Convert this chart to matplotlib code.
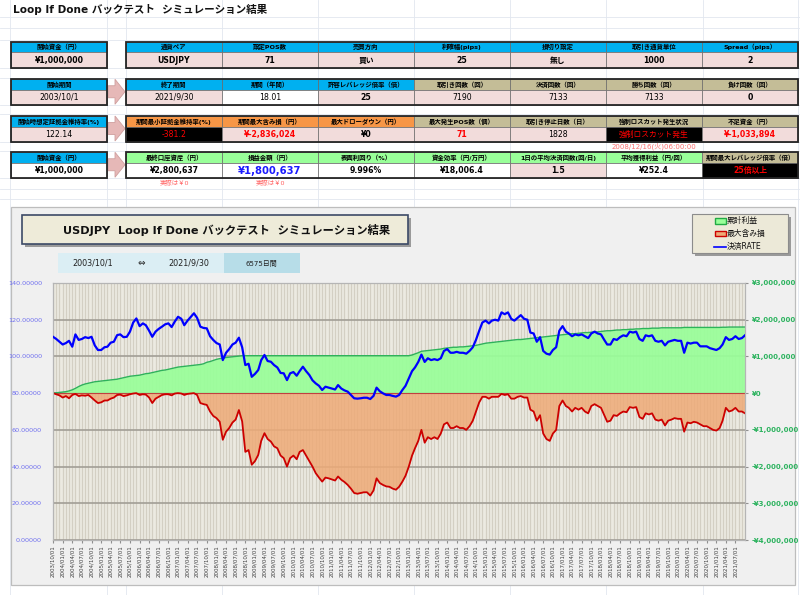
import numpy as np
import pandas as pd
import matplotlib
matplotlib.use('Agg')
import matplotlib.pyplot as plt
from matplotlib.patches import Rectangle, Polygon

plt.rcParams['font.family'] = ['DejaVu Sans', 'Noto Sans CJK JP']

# ---------------- data ----------------
month_starts = list(pd.date_range('2003-10-01', '2021-09-01', freq='MS'))
dates = month_starts + [pd.Timestamp('2021-09-30')]

rate = [
    110.7, 109.5, 108.0,
    106.5, 107.3, 108.5, 105.3, 112.0, 109.0, 109.5, 110.5, 110.0, 110.7, 106.0, 103.5,
    103.5, 105.0, 105.3, 107.5, 108.0, 111.6, 112.0, 110.5, 110.7, 113.5, 118.5, 120.7,
    116.5, 118.0, 117.0, 114.0, 110.7, 113.5, 115.0, 116.2, 117.5, 118.0, 116.0, 119.0,
    121.6, 120.5, 117.0, 119.5, 121.5, 123.5, 121.0, 116.2, 115.5, 115.3, 111.0, 109.0,
    107.3, 106.5, 98.0, 102.0, 104.0, 106.5, 107.5, 110.2, 105.0, 95.3, 96.0, 88.9,
    90.5, 92.6, 98.0, 100.8, 97.5, 97.1, 95.3, 94.0, 91.0, 90.8, 87.1, 90.8,
    91.5, 89.5, 92.0, 94.4, 92.0, 89.9, 87.0, 85.3, 84.0, 81.7, 83.5, 83.0,
    82.5, 82.0, 84.4, 82.5, 81.5, 80.8, 79.0, 77.2, 77.0, 77.2, 77.5, 77.5,
    76.8, 78.5, 83.0, 81.0, 79.9, 79.0, 79.0, 78.5, 78.1, 79.0, 81.7, 84.0,
    88.0, 92.0, 94.0, 97.0, 101.0, 97.0, 99.0, 98.0, 98.5, 98.0, 99.0, 103.0,
    104.0, 102.0, 102.0, 102.5, 102.0, 102.0, 101.5, 103.0, 105.0, 109.0, 114.0, 118.5,
    119.5, 118.0, 119.5, 120.0, 119.5, 124.0, 123.0, 124.0, 120.5, 119.5, 121.0, 122.5,
    120.5, 120.0, 113.0, 112.5, 108.0, 110.5, 103.0, 101.5, 101.0, 103.5, 105.0, 114.0,
    116.5, 113.5, 112.5, 111.0, 112.0, 111.5, 112.0, 111.0, 110.0, 112.5, 113.5, 112.5,
    112.0, 109.0, 106.5, 106.5, 109.5, 109.0, 110.5, 111.5, 111.0, 113.5, 113.0, 113.5,
    109.5, 108.5, 111.5, 111.0, 111.5, 108.5, 108.0, 108.5, 106.0, 108.0, 108.5, 109.0,
    108.5, 108.5, 102.0, 107.5, 107.0, 107.5, 107.5, 105.5, 105.5, 105.5, 104.5, 104.0,
    103.5, 104.5, 106.5, 110.5, 109.0, 109.5, 111.0, 109.5, 110.0,
    111.5,
]

profit_m = [
    0.00, 0.01, 0.02,
    0.03, 0.04, 0.06, 0.09, 0.13, 0.18, 0.22, 0.25, 0.27, 0.29, 0.31, 0.32,
    0.33, 0.34, 0.35, 0.36, 0.37, 0.38, 0.40, 0.42, 0.44, 0.46, 0.47, 0.48,
    0.49, 0.51, 0.53, 0.54, 0.56, 0.58, 0.60, 0.62, 0.63, 0.65, 0.67, 0.69,
    0.71, 0.72, 0.73, 0.74, 0.75, 0.76, 0.77, 0.78, 0.80, 0.84, 0.86, 0.89,
    0.92, 0.94, 0.95, 0.97, 0.98, 0.99, 1.00, 1.01, 1.02, 1.02, 1.02, 1.02,
    1.02, 1.02, 1.02, 1.02, 1.02, 1.02, 1.02, 1.02, 1.02, 1.02, 1.02, 1.02,
    1.02, 1.02, 1.02, 1.02, 1.02, 1.02, 1.02, 1.02, 1.02, 1.02, 1.02, 1.02,
    1.02, 1.02, 1.02, 1.02, 1.02, 1.02, 1.02, 1.02, 1.02, 1.02, 1.02, 1.02,
    1.02, 1.02, 1.02, 1.02, 1.02, 1.02, 1.02, 1.02, 1.02, 1.02, 1.02, 1.02,
    1.02, 1.04, 1.07, 1.10, 1.14, 1.15, 1.16, 1.17, 1.18, 1.19, 1.20, 1.22,
    1.23, 1.24, 1.25, 1.25, 1.26, 1.26, 1.27, 1.28, 1.29, 1.30, 1.32, 1.34,
    1.36, 1.37, 1.38, 1.39, 1.40, 1.41, 1.42, 1.43, 1.44, 1.45, 1.46, 1.46,
    1.47, 1.48, 1.49, 1.50, 1.51, 1.52, 1.53, 1.54, 1.55, 1.56, 1.57, 1.58,
    1.59, 1.60, 1.61, 1.62, 1.62, 1.63, 1.64, 1.65, 1.65, 1.66, 1.67, 1.67,
    1.68, 1.69, 1.70, 1.70, 1.71, 1.72, 1.72, 1.73, 1.73, 1.74, 1.74, 1.75,
    1.75, 1.76, 1.76, 1.76, 1.77, 1.77, 1.77, 1.78, 1.78, 1.78, 1.78, 1.78,
    1.78, 1.78, 1.79, 1.79, 1.79, 1.79, 1.79, 1.79, 1.79, 1.79, 1.79, 1.79,
    1.79, 1.79, 1.795, 1.795, 1.80, 1.80, 1.80, 1.80, 1.80,
    1.8006,
]

loss_m = [
    0.00, -0.03, -0.06,
    -0.12, -0.08, -0.14, -0.05, -0.02, -0.08, -0.06, -0.07, -0.05, -0.12, -0.20, -0.27,
    -0.25, -0.20, -0.20, -0.15, -0.12, -0.05, -0.04, -0.08, -0.06, -0.03, -0.01, 0.00,
    -0.05, -0.03, -0.04, -0.12, -0.27, -0.15, -0.10, -0.05, -0.03, -0.03, -0.06, -0.01,
    0.00, -0.01, -0.05, -0.02, -0.01, 0.00, -0.05, -0.27, -0.30, -0.32, -0.50, -0.62,
    -0.68, -0.78, -1.27, -1.05, -0.95, -0.80, -0.72, -0.46, -0.77, -1.60, -1.55, -1.95,
    -1.85, -1.68, -1.30, -1.09, -1.25, -1.32, -1.45, -1.50, -1.70, -1.77, -2.00, -1.77,
    -1.70, -1.80, -1.60, -1.55, -1.70, -1.86, -2.00, -2.18, -2.30, -2.41, -2.30, -2.32,
    -2.35, -2.38, -2.27, -2.36, -2.42, -2.50, -2.60, -2.72, -2.74, -2.72, -2.70, -2.70,
    -2.79, -2.65, -2.32, -2.45, -2.50, -2.54, -2.55, -2.60, -2.63, -2.55, -2.41, -2.25,
    -2.00, -1.70, -1.50, -1.30, -1.00, -1.35, -1.20, -1.25, -1.20, -1.25, -1.10, -0.85,
    -0.80, -0.95, -0.95, -0.90, -0.95, -0.95, -1.00, -0.90, -0.75, -0.50, -0.25, -0.10,
    -0.10, -0.15, -0.10, -0.10, -0.10, -0.02, -0.05, -0.03, -0.15, -0.15, -0.10, -0.08,
    -0.12, -0.12, -0.45, -0.50, -0.75, -0.60, -1.10, -1.25, -1.30, -1.10, -1.00, -0.35,
    -0.20, -0.35, -0.40, -0.50, -0.40, -0.45, -0.40, -0.50, -0.55, -0.35, -0.30, -0.35,
    -0.40, -0.60, -0.78, -0.75, -0.60, -0.62, -0.55, -0.50, -0.52, -0.38, -0.40, -0.38,
    -0.65, -0.70, -0.55, -0.58, -0.55, -0.72, -0.75, -0.72, -0.88, -0.75, -0.72, -0.68,
    -0.70, -0.70, -1.05, -0.80, -0.82, -0.78, -0.80, -0.85, -0.90, -0.90, -0.95, -1.00,
    -1.02, -0.95, -0.75, -0.40, -0.50, -0.47, -0.40, -0.50, -0.50,
    -0.55,
]

tick_dates = list(pd.date_range('2003-10-01', '2021-07-01', freq='3MS'))
tick_labels = [d.strftime('%Y/%m/%d') for d in tick_dates]
left_ticks = [0, 20, 40, 60, 80, 100, 120, 140]
left_tick_labels = ['0.00000', '20.00000', '40.00000', '60.00000', '80.00000',
                    '100.00000', '120.00000', '140.00000']
right_ticks = [-4e6, -3e6, -2e6, -1e6, 0, 1e6, 2e6, 3e6]
right_tick_labels = ['-¥4,000,000', '-¥3,000,000', '-¥2,000,000', '-¥1,000,000',
                     '¥0', '¥1,000,000', '¥2,000,000', '¥3,000,000']

# table contents
left_heads = ['開始資金（円）', '開始期間', '開始時想定証拠金維持率(%)', '開始資金（円）']
left_vals = ['¥1,000,000', '2003/10/1', '122.14', '¥1,000,000']

heads = [
    ['通貨ペア', '設定POS数', '売買方向', '利確幅(pips)', '損切り設定', '取引き通貨単位', 'Spread（pips）'],
    ['終了期間', '期間（年間）', '許容レバレッジ倍率（倍）', '取引き回数（回）', '決済回数（回）', '勝ち回数（回）', '負け回数（回）'],
    ['期間最小証拠金維持率(%)', '期間最大含み損（円）', '最大ドローダウン（円）', '最大発生POS数（個）', '取引き停止日数（日）', '強制ロスカット発生状況', '不足資金（円）'],
    ['最終口座資産（円）', '損益金額（円）', '表面利回り（%）', '資金効率（円/万円）', '1日の平均決済回数(回/日)', '平均獲得利益（円/回）', '期間最大レバレッジ倍率（倍）'],
]
vals = [
    ['USDJPY', '71', '買い', '25', '無し', '1000', '2'],
    ['2021/9/30', '18.01', '25', '7190', '7133', '7133', '0'],
    ['-381.2', '¥-2,836,024', '¥0', '71', '1828', '強制ロスカット発生', '¥-1,033,894'],
    ['¥2,800,637', '¥1,800,637', '9.996%', '¥18,006.4', '1.5', '¥252.4', '25倍以上'],
]

# ---------------- styling ----------------
CYAN, KHAKI, ORANGE, LGREEN = '#00b0f0', '#c4bd97', '#f79646', '#99ff99'
PINK, WHITE, BLACK = '#f2dcdb', '#ffffff', '#000000'
RED, BLUE = '#ff0000', '#1a1aff'

head_colors = [
    [CYAN] * 7,
    [CYAN] * 3 + [KHAKI] * 4,
    [ORANGE] * 3 + [KHAKI] * 4,
    [LGREEN] * 6 + [KHAKI],
]
val_bg = [
    [PINK] * 7,
    [PINK, WHITE, PINK, PINK, PINK, PINK, PINK],
    [BLACK, PINK, PINK, PINK, PINK, BLACK, PINK],
    [WHITE, WHITE, WHITE, WHITE, PINK, WHITE, BLACK],
]
val_fc = [
    ['k'] * 7,
    ['k'] * 7,
    [RED, RED, 'k', RED, 'k', RED, RED],
    ['k', BLUE, 'k', 'k', 'k', 'k', RED],
]
val_fw = [
    ['bold'] * 7,
    ['normal', 'normal', 'bold', 'normal', 'normal', 'normal', 'bold'],
    ['normal', 'bold', 'bold', 'bold', 'normal', 'normal', 'bold'],
    ['bold', 'bold', 'bold', 'bold', 'bold', 'bold', 'bold'],
]
val_fs = [
    [5.6] * 7,
    [5.6] * 7,
    [5.6] * 7,
    [5.6, 7.2, 5.6, 5.6, 5.6, 5.6, 5.6],
]
left_bg = [PINK, PINK, PINK, WHITE]
left_fw = ['bold', 'normal', 'normal', 'bold']

rows_y = [(41.5, 52.0, 67.5), (79.0, 89.5, 104.5), (115.5, 126.5, 141.5), (152.0, 163.0, 177.5)]
col_x = [126 + 96 * i for i in range(7)]
COLW = 96

W, H = 800, 595
fig = plt.figure(figsize=(8, 5.95), dpi=100)
fig.patch.set_facecolor('white')

ov = fig.add_axes([0, 0, 1, 1])
ov.set_zorder(0)
ov.set_xlim(0, W)
ov.set_ylim(H, 0)
ov.axis('off')

# faint spreadsheet grid
for x in [10, 107, 126, 222, 318, 414, 510, 606, 703, 798]:
    ov.plot([x, x], [0, H], color='#e2e7ef', lw=0.6, zorder=0)
for y in [17, 28, 40, 68, 78, 105, 114, 142, 151, 178, 189, 199]:
    ov.plot([0, W], [y, y], color='#e2e7ef', lw=0.6, zorder=0)

ov.text(13, 9.5, 'Loop If Done バックテスト  シミュレーション結果', fontsize=7.6,
        weight='bold', ha='left', va='center', color='#111111')


def cell(x, y, w, h, fc, txt, tc='k', fs=5.0, fw='bold'):
    ov.add_patch(Rectangle((x, y), w, h, facecolor=fc, edgecolor='#6a6a6a', lw=0.5, zorder=2))
    ov.text(x + w / 2, y + h / 2 + 0.3, txt, ha='center', va='center', fontsize=fs,
            color=tc, weight=fw, zorder=3)


HFS = 4.6
for r, (yt, ym, yb) in enumerate(rows_y):
    # left box
    cell(11, yt, 96, ym - yt, CYAN, left_heads[r], fs=HFS)
    cell(11, ym, 96, yb - ym, left_bg[r], left_vals[r], fs=5.6, fw=left_fw[r])
    ov.add_patch(Rectangle((11, yt), 96, yb - yt, fill=False, ec='#262626', lw=1.3, zorder=4))
    for c in range(7):
        cell(col_x[c], yt, COLW, ym - yt, head_colors[r][c], heads[r][c], fs=HFS)
        cell(col_x[c], ym, COLW, yb - ym, val_bg[r][c], vals[r][c],
             tc=val_fc[r][c], fs=val_fs[r][c], fw=val_fw[r][c])
    ov.add_patch(Rectangle((126, yt), COLW * 7, yb - yt, fill=False, ec='#262626', lw=1.3, zorder=4))
    if r > 0:
        cy = (yt + yb) / 2
        ov.add_patch(Polygon([(108, cy - 6), (115, cy - 6), (115, cy - 12.5), (125, cy),
                              (115, cy + 12.5), (115, cy + 6), (108, cy + 6)],
                             closed=True, fc='#e6b8b7', ec='#cf9f9e', lw=0.6, zorder=3))

ov.text(654, 146.5, '2008/12/16(火)06:00:00', fontsize=5.0, color='#ff7070',
        ha='center', va='center')
ov.text(174, 183, '実際は￥0', fontsize=4.6, color='#ff6060', ha='center', va='center')
ov.text(270, 183, '実際は￥0', fontsize=4.6, color='#ff6060', ha='center', va='center')

# chart frame
ov.add_patch(Rectangle((11, 207), 784, 378, fc='#f0f0f0', ec='#bdbdbd', lw=0.9, zorder=1))
# chart title box
ov.add_patch(Rectangle((25, 218), 386, 29, fc='#9a9a9a', ec='none', zorder=2))
ov.add_patch(Rectangle((22, 215), 386, 29, fc='#eeebd9', ec='#3c4a66', lw=1.2, zorder=3))
ov.text(63, 230, 'USDJPY  Loop If Done バックテスト  シミュレーション結果', fontsize=8.1,
        weight='bold', ha='left', va='center', zorder=4, color='#111111')
# date box
ov.add_patch(Rectangle((58, 253), 166, 20, fc='#dbeef4', ec='none', zorder=2))
ov.add_patch(Rectangle((224, 253), 76, 20, fc='#b7dde8', ec='none', zorder=2))
ov.text(92.7, 263.5, '2003/10/1', fontsize=5.8, ha='center', va='center', zorder=3, color='#222222')
ov.text(141.7, 263.5, '⇔', fontsize=6.5, ha='center', va='center', zorder=3, color='#222222')
ov.text(189, 263.5, '2021/9/30', fontsize=5.8, ha='center', va='center', zorder=3, color='#222222')
ov.text(261.7, 263.5, '6575日間', fontsize=5.0, ha='center', va='center', zorder=3, color='#222222')
# legend
ov.add_patch(Rectangle((695, 217), 96, 39, fc='#9a9a9a', ec='none', zorder=2))
ov.add_patch(Rectangle((692, 214), 96, 39, fc='#ece9d8', ec='#8c8c8c', lw=0.8, zorder=3))
ov.add_patch(Rectangle((715, 218), 11, 5.5, fc='#99ff99', ec='#22aa44', lw=1.0, zorder=4))
ov.add_patch(Rectangle((715, 230.5), 11, 5.5, fc='#eeaa77', ec='#cc0000', lw=1.0, zorder=4))
ov.plot([714, 726], [246.7, 246.7], color='#0000ff', lw=1.2, zorder=4)
for yy, t in [(220.7, '累計利益'), (233.3, '最大含み損'), (246.7, '決済RATE')]:
    ov.text(727, yy, t, fontsize=5.6, ha='left', va='center', zorder=4, color='#111111')

# ---------------- main plot ----------------
pos = [53 / W, 1 - 540 / H, 692 / W, 257 / H]
ax = fig.add_axes(pos)
ax_r = ax.twinx()
ax_r.set_zorder(1)
ax.set_zorder(2)
ax.patch.set_visible(False)
ax_r.patch.set_visible(True)
ax_r.set_facecolor('#eceae1')

ax.plot(dates, rate, color='#0000ff', lw=1.6, zorder=3)

profit = np.array(profit_m) * 1e6
loss = np.array(loss_m) * 1e6
ax_r.vlines(month_starts, -4e6, 3e6, color='#d3cfc3', lw=0.9, zorder=0.5)
ax_r.set_yticks(right_ticks)
ax_r.grid(axis='y', color='#a29e96', lw=1.2, zorder=0.8)
ax_r.set_axisbelow(True)
ax_r.fill_between(dates, 0, profit, color='#99ff99', alpha=0.92, lw=0, zorder=1)
ax_r.fill_between(dates, loss, 0, color='#eeaa77', alpha=0.85, lw=0, zorder=1)
ax_r.plot(dates, profit, color='#2db35a', lw=1.0, zorder=2)
ax_r.plot(dates, loss, color='#cc0000', lw=1.3, zorder=2)
ax_r.axhline(0, color='#c04040', lw=0.8, zorder=1.5)

ax.set_xlim(pd.Timestamp('2003-10-01'), pd.Timestamp('2021-09-30'))
ax.set_ylim(0, 140)
ax_r.set_ylim(-4e6, 3e6)

ax.set_xticks(tick_dates)
ax.set_xticklabels(tick_labels, rotation=90, fontsize=4.0, color='#404040')
ax.tick_params(axis='x', length=2, pad=2, color='#909090')
ax.set_yticks(left_ticks)
ax.set_yticklabels(left_tick_labels, fontsize=4.6, color='#6f6fef')
ax.tick_params(axis='y', length=0, pad=8)
ax_r.set_yticklabels(right_tick_labels, fontsize=5.0, color='#2db35f', weight='bold')
ax_r.tick_params(axis='y', length=2, pad=3, color='#909090')

for a in (ax, ax_r):
    for s in a.spines.values():
        s.set_color('#b5b5b5')
        s.set_linewidth(0.8)

fig.savefig('out.png', dpi=100, facecolor='white')
